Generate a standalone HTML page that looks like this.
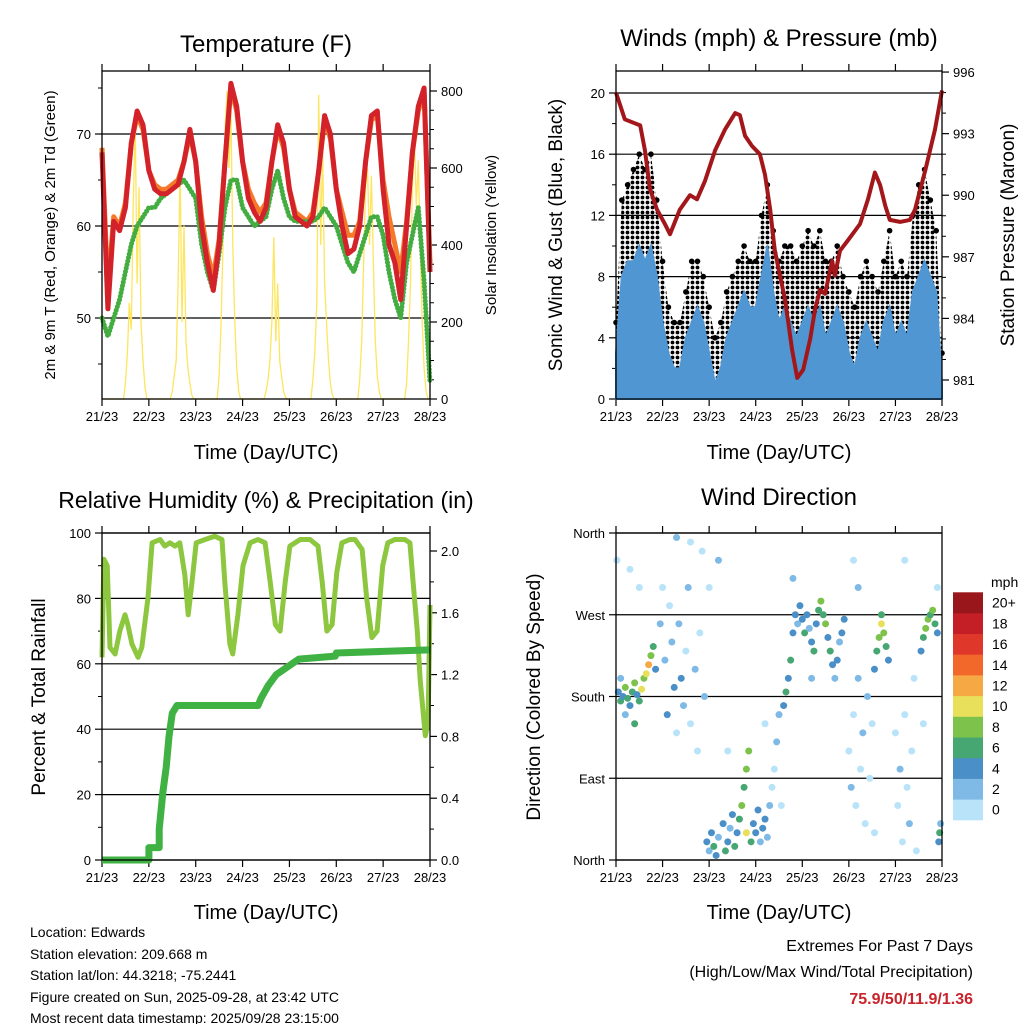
<!DOCTYPE html>
<html><head><meta charset="utf-8"><style>
body{margin:0;background:#fff;}
svg text{font-family:"Liberation Sans",sans-serif;fill:#000;}
</style></head><body>
<svg id="c" width="1024" height="1024" viewBox="0 0 1024 1024" xmlns="http://www.w3.org/2000/svg">
<defs>
<pattern id="dots" width="5" height="5" patternUnits="userSpaceOnUse"><circle cx="2.5" cy="2.5" r="1.9" fill="#000"/></pattern>
</defs>
<rect width="1024" height="1024" fill="#fff"/>
<text x="266" y="52" font-size="24" text-anchor="middle">Temperature (F)</text>
<text x="779" y="46" font-size="24" text-anchor="middle">Winds (mph) &amp; Pressure (mb)</text>
<text x="266" y="508" font-size="23" text-anchor="middle">Relative Humidity (%) &amp; Precipitation (in)</text>
<text x="779" y="505" font-size="24" text-anchor="middle">Wind Direction</text>
<text x="266" y="459" font-size="20" text-anchor="middle">Time (Day/UTC)</text>
<text x="779" y="459" font-size="20" text-anchor="middle">Time (Day/UTC)</text>
<text x="266" y="919" font-size="20" text-anchor="middle">Time (Day/UTC)</text>
<text x="779" y="919" font-size="20" text-anchor="middle">Time (Day/UTC)</text>
<text transform="translate(55,235) rotate(-90)" font-size="15" text-anchor="middle">2m &amp; 9m T (Red, Orange) &amp; 2m Td (Green)</text>
<text transform="translate(496,235) rotate(-90)" font-size="15" text-anchor="middle">Solar Insolation (Yellow)</text>
<text transform="translate(562,235) rotate(-90)" font-size="19" text-anchor="middle">Sonic Wind &amp; Gust (Blue, Black)</text>
<text transform="translate(1014,235) rotate(-90)" font-size="19" text-anchor="middle">Station Pressure (Maroon)</text>
<text transform="translate(45,697) rotate(-90)" font-size="19" text-anchor="middle">Percent &amp; Total Rainfall</text>
<text transform="translate(540,697) rotate(-90)" font-size="19" text-anchor="middle">Direction (Colored By Speed)</text>
<g font-size="14">
<text x="30" y="937">Location: Edwards</text>
<text x="30" y="959">Station elevation: 209.668 m</text>
<text x="30" y="980">Station lat/lon: 44.3218; -75.2441</text>
<text x="30" y="1002">Figure created on Sun, 2025-09-28, at 23:42 UTC</text>
<text x="30" y="1023">Most recent data timestamp: 2025/09/28 23:15:00</text>
</g>
<g font-size="16" text-anchor="end">
<text x="973" y="951">Extremes For Past 7 Days</text>
<text x="973" y="977">(High/Low/Max Wind/Total Precipitation)</text>
<text x="973" y="1004" font-weight="bold" style="fill:#c8242b">75.9/50/11.9/1.36</text>
</g>
<g id="layer"></g>
</svg>
<script>
// ---- data ----
const dayLabels = ["21/23","22/23","23/23","24/23","25/23","26/23","27/23","28/23"];
const temp2m = [68,51,60.5,59.5,62,69,72.5,71,66,64,63.5,63.5,64,64.5,67,70.5,67,60,56,53,58,67,75.5,73,67,63,61.5,60.5,62,67,71,69,64,61,60.5,60,61,66,72,70,64,60,57,57.5,60,67,72,72.5,64,58,56,52,60,68,73,75,55];
const temp9m = [68.5,53,61,60,62.5,69,72,70.5,66,64.5,64,64,64.5,65,67,70,67,61,57,54.5,58.5,67,75,72.5,67,64,62.5,61.5,62.5,67,70.5,68.5,64,61.5,61,60.5,61.5,66,71.5,69.5,64,61.5,59,59,60.5,67,71.5,72,65,61,58,55,60.5,68,72.5,74.5,56];
const dewpt = [50,48,50,52,55,58,60,61,62,62,63,63.5,64,64.5,65,64,63,58,55,53,57,62,65,65,62,61,60,60.5,61,64,66,63,61,60.5,60.5,60.5,60.5,61,62,61,60,58,56,55,57,59,61,61,59,55,52,50,56,59,62,54,43];
const solarDay = [
 [0,0,0,0,0,0,0,0,0,0,0,0,40,120,250,180,500,720,300,550,200,100,30,0],
 [0,0,0,0,0,0,0,0,0,0,0,0,20,60,100,300,600,200,450,150,80,40,10,0],
 [0,0,0,0,0,0,0,0,0,0,0,0,60,200,400,700,800,600,750,400,200,80,20,0],
 [0,0,0,0,0,0,0,0,0,0,0,0,20,50,100,200,420,150,300,100,60,20,5,0],
 [0,0,0,0,0,0,0,0,0,0,0,0,50,120,250,790,400,650,300,200,100,40,10,0],
 [0,0,0,0,0,0,0,0,0,0,0,0,50,150,350,550,600,400,580,350,150,60,20,0],
 [0,0,0,0,0,0,0,0,0,0,0,0,40,150,300,550,680,500,620,400,200,80,20,0]];
const windSpeed = [3,8,9,9,10,9,10,8,5,3,2,2,4,5,6,5,3,1,2,4,5,6,7,6,6,8,10,7,5,6,5,4,5,6,5,6,4,5,6,5,3,2,4,5,4,3,5,6,4,5,4,7,8,9,8,7,1];
const windLow = [0,2,3,2,3,2,3,2,1,0,0,0,1,1,2,1,0,0,0,1,1,2,2,1,2,3,4,2,1,2,1,1,1,2,1,2,1,1,2,1,0,0,1,1,1,0,1,2,1,1,1,2,3,3,2,2,0];
const windGust = [5,13,14,15,16,15,16,13,9,6,5,5,7,9,9,8,6,4,5,7,8,9,10,9,9,12,14,11,9,10,10,9,10,11,10,11,9,9,10,8,7,6,8,9,8,7,9,11,8,9,8,12,14,15,13,11,3];
const presDays = [0,0.19,0.52,0.62,0.73,0.88,1.05,1.16,1.37,1.59,1.74,1.91,2.13,2.34,2.56,2.66,2.77,2.92,3.09,3.2,3.31,3.41,3.63,3.78,3.89,4.02,4.17,4.27,4.38,4.49,4.64,4.7,4.81,4.98,5.24,5.41,5.56,5.67,5.78,5.88,6.1,6.31,6.42,6.64,6.85,7.0];
const presVals = [995,993.7,993.4,992.2,990.3,989.3,988.6,988.1,989.3,990,989.8,990.7,992.2,993.2,994,993.9,992.9,992.4,992,991,989.3,987.3,984.9,982.5,981.1,981.5,983,984.4,985.4,985.2,986.8,986.1,987.3,987.8,988.6,989.8,991.1,990.5,989.5,988.8,988.7,988.8,989.3,991.2,993.2,995.1];
const rhDays = [0,0.04,0.11,0.17,0.28,0.38,0.49,0.55,0.64,0.77,0.85,0.98,1.07,1.24,1.34,1.45,1.56,1.66,1.77,1.84,1.92,2.01,2.2,2.41,2.56,2.62,2.73,2.79,2.9,3.01,3.16,3.33,3.48,3.59,3.7,3.8,3.91,4.01,4.23,4.44,4.61,4.7,4.8,4.91,5.01,5.12,5.29,5.4,5.55,5.65,5.76,5.87,5.99,6.1,6.25,6.46,6.57,6.64,6.73,6.79,6.9,6.96,7.0];
const rhVals = [62,92,90,65,63,70,75,72,66,62,65,80,97,98,96,97,96,97,87,75,85,97,98,99,98,85,66,63,75,90,97,98,97,85,72,70,85,96,98,98,96,85,70,72,88,97,98,98,95,80,68,70,90,97,98,98,97,85,70,55,38,42,78];
const precipDays = [0,1.0,1.0,1.22,1.22,1.3,1.37,1.43,1.5,1.6,1.7,3.33,3.4,3.55,3.72,4.2,4.98,5.0,6.0,7.0];
const precipVals = [0,0,0.08,0.08,0.2,0.44,0.6,0.8,0.95,1.0,1.0,1.0,1.05,1.13,1.2,1.3,1.32,1.34,1.35,1.36];
const dirDays = [0.05,0.1,0.15,0.2,0.25,0.3,0.35,0.4,0.45,0.5,0.55,0.6,0.65,0.7,0.75,0.8,0.85,0.2,0.4,0.1,0.02,0.3,0.5,
0.95,1.0,1.05,1.1,1.15,1.2,1.25,1.3,1.35,1.4,1.45,1.5,1.55,1.6,1.7,1.75,1.8,1.85,1.9,1.3,1.6,
1.95,2.0,2.05,2.1,2.15,2.2,2.3,2.35,2.4,2.45,2.5,2.55,2.6,2.65,2.7,2.75,2.8,2.8,2.85,2.9,2.95,3.0,3.05,3.1,3.15,3.2,3.25,3.3,3.35,3.4,3.45,3.5,3.55,2.2,2.0,2.4,3.2,
3.6,3.65,3.7,3.75,3.8,3.85,3.9,3.95,4.0,4.05,4.1,4.15,4.2,4.25,4.3,4.35,4.4,4.45,4.5,4.55,4.6,4.65,4.7,4.75,4.8,4.85,4.9,3.8,4.2,
5.0,5.05,5.1,5.15,5.2,5.25,5.3,5.35,5.4,5.45,5.5,5.55,5.1,5.2,
5.6,5.65,5.7,5.75,5.8,5.85,5.55,5.7,
6.0,6.05,6.1,6.15,6.2,6.25,6.3,6.35,6.4,6.45,6.2,
6.55,6.6,6.65,6.7,6.75,6.8,6.85,6.9,6.95,6.93,6.97,6.6,6.9];
const dirDeg = [185,175,180,190,178,170,185,195,182,175,188,200,205,215,225,235,210,160,150,200,330,320,300,
260,300,220,160,280,240,190,140,260,200,170,230,300,150,210,120,250,340,180,355,350,
20,10,30,15,5,25,40,10,20,35,50,15,30,45,60,80,100,30,120,20,40,30,55,20,35,45,25,60,80,100,130,160,60,330,300,120,150,
170,185,200,220,250,270,260,280,265,250,270,255,240,230,260,275,285,270,260,245,230,215,200,220,240,250,265,310,200,
120,80,160,60,200,100,140,40,180,90,150,30,330,300,
230,245,260,250,235,220,210,270,
140,60,100,20,160,80,40,120,200,10,330,
230,245,255,265,270,275,260,250,30,20,40,150,300];
const dirSpeed = [4,6,4,8,6,4,6,8,4,6,10,8,10,12,8,6,4,2,6,2,0,0,0,
2,0,2,4,0,2,4,0,2,4,2,0,2,0,2,0,0,0,2,2,0,
4,2,4,6,4,2,4,6,4,2,4,6,4,6,8,6,8,10,8,6,4,4,4,2,4,4,2,2,0,0,2,2,0,2,0,0,0,
4,6,4,6,4,4,2,4,4,6,4,2,4,6,4,6,8,6,8,4,6,4,2,4,2,4,4,2,2,
0,2,0,0,2,0,2,0,2,0,0,0,0,2,
6,8,10,8,6,4,4,6,
0,0,2,0,0,0,2,0,0,0,0,
4,6,8,8,6,8,6,4,6,4,2,0,0];
const speedLabels = ["0","2","4","6","8","10","12","14","16","18","20+"];
const speedColors = ["#b8e3f8","#7fbae6","#4a8fc7","#47a772","#7cc24b","#e8e05a","#f6a844","#f2682b","#e0372b","#c41e27","#99161b"];

// ---- drawing ----
const NS = "http://www.w3.org/2000/svg";
const layer = document.getElementById("layer");
function mk(tag, attrs, parent) {
  const e = document.createElementNS(NS, tag);
  for (const k in attrs) e.setAttribute(k, attrs[k]);
  (parent || layer).appendChild(e);
  return e;
}
function txt(s, x, y, anchor, size, parent) {
  const t = mk("text", {x: x, y: y, "text-anchor": anchor, "font-size": size}, parent);
  t.textContent = s;
  return t;
}
function panel(name, x0, y0, x1, y1) {
  const g = mk("g", {});
  
  
  const sx = d => x0 + (x1 - x0) * d / 7;
  for (let i = 0; i <= 7; i++) {
    const x = sx(i);
    mk("line", {x1: x, x2: x, y1: y1, y2: y1 + 7, stroke: "#000", "stroke-width": 1.2}, g);
    mk("line", {x1: x, x2: x, y1: y0, y2: y0 - 7, stroke: "#000", "stroke-width": 1.2}, g);
    const t = txt(dayLabels[i], x, y1 + 22, "middle", 13, g);
    
    
  }
  return {g: g, sx: sx};
}
function frame(g, x0, y0, x1, y1) {
  mk("rect", {x: x0, y: y0, width: x1 - x0, height: y1 - y0, fill: "none", stroke: "#000", "stroke-width": 1.3}, g);
}
function yAxis(g, side, x0, x1, y0, y1, vals, labels, sy, grid, minor) {
  const xe = side === "left" ? x0 : x1;
  const dir = side === "left" ? -1 : 1;
  if (minor) minor.forEach(v => { const y = sy(v); if (y >= y0 && y <= y1) mk("line", {x1: xe, x2: xe + dir * 4, y1: y, y2: y, stroke: "#000", "stroke-width": 1}, g); });
  vals.forEach((v, i) => {
    const y = sy(v);
    if (grid) mk("line", {x1: x0, x2: x1, y1: y, y2: y, stroke: "#000", "stroke-width": 1.2}, g);
    mk("line", {x1: xe, x2: xe + dir * 7, y1: y, y2: y, stroke: "#000", "stroke-width": 1.2}, g);
    const t = txt(labels[i], xe + dir * 11, y + 5, side === "left" ? "end" : "start", 13, g);
    
    
  });
}
function pathD(xs, ys) { return xs.map((x, i) => (i ? "L" : "M") + x.toFixed(1) + "," + ys[i].toFixed(1)).join(""); }
const idx3 = n => Array.from({length: n}, (_, i) => i * 3 / 24);

// Panel 1: temperature
(function () {
  const X0 = 102, Y0 = 71, X1 = 430, Y1 = 399;
  const p = panel("temperature-panel", X0, Y0, X1, Y1);
  const sy = v => 318 - (v - 50) * 9.2;
  const sr = v => 399 - v * 0.385;
  yAxis(p.g, "left", X0, X1, Y0, Y1, [50, 60, 70], ["50", "60", "70"], sy, true, [45, 55, 65, 75]);
  const sv = [0, 200, 400, 600, 800];
  yAxis(p.g, "right", X0, X1, Y0, Y1, sv, sv.map(String), sr, false, [50,100,150,250,300,350,450,500,550,650,700,750]);
  const sxs = [], sys = [];
  solarDay.forEach((arr, d) => arr.forEach((v, h) => { sxs.push(p.sx(d + h / 24)); sys.push(sr(v)); }));
  sxs.push(p.sx(7)); sys.push(sr(0));
  const s = mk("path", {d: pathD(sxs, sys), fill: "none", stroke: "#fde55e", "stroke-width": 1.3}, p.g);
  
  
  const t3 = idx3(temp2m.length).map(p.sx);
  const o = mk("path", {d: pathD(t3, temp9m.map(sy)), fill: "none", stroke: "#f47a2a", "stroke-width": 5, "stroke-linejoin": "round"}, p.g);
  
  
  const gr = mk("path", {d: pathD(t3, dewpt.map(sy)), fill: "none", stroke: "#44ad42", "stroke-width": 5, "stroke-linejoin": "round", "stroke-linecap": "round", "stroke-dasharray": "0.1 3.5"}, p.g);
  
  
  const r = mk("path", {d: pathD(t3, temp2m.map(sy)), fill: "none", stroke: "#d3222a", "stroke-width": 5, "stroke-linejoin": "round"}, p.g);
  
  
  frame(p.g, X0, Y0, X1, Y1);
})();

// Panel 2: winds
(function () {
  const X0 = 616, Y0 = 71, X1 = 942, Y1 = 399;
  const p = panel("winds-panel", X0, Y0, X1, Y1);
  const sy = v => 399 - v * 15.3;
  const sp = v => 380 - (v - 981) * 20.53;
  const wv = [0, 4, 8, 12, 16, 20];
  yAxis(p.g, "left", X0, X1, Y0, Y1, wv, wv.map(String), sy, true, [2,6,10,14,18]);
  const pv = [981, 984, 987, 990, 993, 996];
  yAxis(p.g, "right", X0, X1, Y0, Y1, pv, pv.map(String), sp, false, [980,982,983,985,986,988,989,991,992,994,995]);
  const t3 = idx3(windSpeed.length).map(p.sx);
  const gd = pathD(t3, windGust.map(sy)) + pathD(t3.slice().reverse(), windLow.slice().reverse().map(sy)).replace("M", "L") + "Z";
  const g1 = mk("path", {d: gd, fill: "url(#dots)"}, p.g);
  
  
  t3.forEach((x, i) => {
    const c = mk("circle", {cx: x, cy: sy(windGust[i]), r: 2.8, fill: "#000"}, p.g);
    
    
  });
  const bd = pathD(t3, windSpeed.map(sy)) + "L" + X1 + "," + Y1 + "L" + X0 + "," + Y1 + "Z";
  const b = mk("path", {d: bd, fill: "#5096d3", stroke: "#5096d3", "stroke-width": 2}, p.g);
  
  
  const pr = mk("path", {d: pathD(presDays.map(p.sx), presVals.map(sp)), fill: "none", stroke: "#a3171b", "stroke-width": 4, "stroke-linejoin": "round"}, p.g);
  
  
  frame(p.g, X0, Y0, X1, Y1);
})();

// Panel 3: RH & precip
(function () {
  const X0 = 102, Y0 = 533, X1 = 430, Y1 = 860;
  const p = panel("humidity-panel", X0, Y0, X1, Y1);
  const sy = v => 860 - v * 3.27;
  const sp = v => 860 - v * 154.5;
  const rv = [0, 20, 40, 60, 80, 100];
  yAxis(p.g, "left", X0, X1, Y0, Y1, rv, rv.map(String), sy, true, [10,30,50,70,90]);
  const pv = [0, 0.4, 0.8, 1.2, 1.6, 2.0];
  yAxis(p.g, "right", X0, X1, Y0, Y1, pv, pv.map(v => v.toFixed(1)), sp, false, [0.2,0.6,1.0,1.4,1.8]);
  const rh = mk("path", {d: pathD(rhDays.map(p.sx), rhVals.map(sy)), fill: "none", stroke: "#8dc63f", "stroke-width": 5, "stroke-linejoin": "round"}, p.g);
  
  
  const pc = mk("path", {d: pathD(precipDays.map(p.sx), precipVals.map(sp)), fill: "none", stroke: "#3fb243", "stroke-width": 7, "stroke-linejoin": "round"}, p.g);
  
  
  frame(p.g, X0, Y0, X1, Y1);
})();

// Panel 4: wind direction
(function () {
  const X0 = 616, Y0 = 533, X1 = 942, Y1 = 860;
  const p = panel("wind-direction-panel", X0, Y0, X1, Y1);
  const sy = v => 860 - v * 327 / 360;
  yAxis(p.g, "left", X0, X1, Y0, Y1, [0, 90, 180, 270, 360], ["North", "East", "South", "West", "North"], sy, true, []);
  dirDays.forEach((d, i) => {
    const c = mk("circle", {cx: p.sx(d), cy: sy(dirDeg[i]), r: 3.5, fill: speedColors[Math.min(10, Math.floor(dirSpeed[i] / 2))]}, p.g);
    
    
  });
  frame(p.g, X0, Y0, X1, Y1);
  const cb = mk("g", {});
  
  
  txt("mph", 991, 587, "start", 14, cb);
  const h = 20.7;
  speedColors.forEach((col, i) => {
    const y = 820 - (i + 1) * h;
    mk("rect", {x: 953, y: y, width: 30, height: h + 0.3, fill: col}, cb);
    const t = txt(speedLabels[i], 992, y + h / 2 + 5, "start", 14, cb);
    
    
  });
})();
</script>
</body></html>
